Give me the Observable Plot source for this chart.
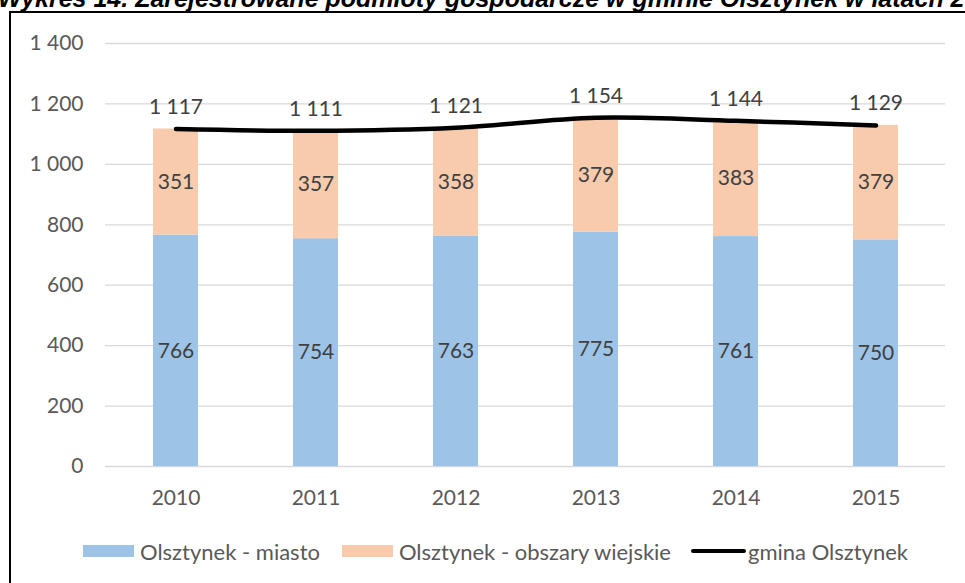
<!DOCTYPE html>
<html>
<head>
<meta charset="utf-8">
<script src="https://cdn.jsdelivr.net/npm/d3@7"></script>
<script src="https://cdn.jsdelivr.net/npm/@observablehq/plot@0.6"></script>
<style>
  html, body { margin: 0; padding: 0; background: #fff; }
  body { width: 965px; height: 583px; position: relative; overflow: hidden; }
  #title {
    position: absolute; left: -2px; top: -14px; white-space: nowrap;
    font-family: "Liberation Sans", Arial, sans-serif; font-style: italic; font-weight: bold;
    font-size: 25px; line-height: 25px; color: #000;
  }
  #frame {
    position: absolute; left: 9px; top: 11px; width: 2000px; height: 2000px;
    border-left: 2px solid #000; border-top: 2px solid #000;
  }
  #chart { position: absolute; left: 0; top: 0; }
  #legend {
    position: absolute; left: 83px; top: 537px; height: 28px;
    font-family: Lato, sans-serif; font-size: 22px; color: #595959;
    display: flex; align-items: center; white-space: nowrap;
  }
  .item { display: flex; align-items: center; }
  .sw { width: 51px; height: 12px; margin-right: 6px; }
  .ln { width: 55px; height: 4px; background: #000; border-radius: 2px; margin-right: 2px; }
</style>
</head>
<body>
<div id="title">Wykres 14. Zarejestrowane podmioty gospodarcze w gminie Olsztynek w latach 2010-2015</div>
<div id="frame"></div>
<div id="chart"></div>
<div id="legend"></div>
<script>
const years = ["2010", "2011", "2012", "2013", "2014", "2015"];
const seriesNames = ["Olsztynek - miasto", "Olsztynek - obszary wiejskie"];
const lineName = "gmina Olsztynek";
const miasto = [766, 754, 763, 775, 761, 750];
const obszaryWiejskie = [351, 357, 358, 379, 383, 379];
const gmina = [1117, 1111, 1121, 1154, 1144, 1129];
const yTicks = [0, 200, 400, 600, 800, 1000, 1200, 1400];
const colors = ["#9DC3E6", "#F8CBAD"];

const locale = d3.formatLocale({decimal: ",", thousands: "\u00a0", grouping: [3], currency: ["", ""]});
const fmt = locale.format(",d");

const table = [];
years.forEach((y, i) => {
  table.push({year: y, series: seriesNames[0], value: miasto[i]});
  table.push({year: y, series: seriesNames[1], value: obszaryWiejskie[i]});
});
const totals = years.map((y, i) => ({year: y, value: gmina[i]}));

const chart = Plot.plot({
  width: 965,
  height: 520,
  marginLeft: 105,
  marginRight: 20,
  marginTop: 43,
  marginBottom: 54,
  style: {fontFamily: "Lato, sans-serif", fontSize: "21px", color: "#595959", background: "transparent", overflow: "visible"},
  x: {domain: years, paddingInner: 0.68, paddingOuter: 0.34, label: null, tickSize: 0, tickPadding: 24},
  y: {domain: [0, 1400], ticks: yTicks, tickFormat: fmt, label: null, tickSize: 0, tickPadding: 22},
  color: {domain: seriesNames, range: colors},
  marks: [
    Plot.gridY(yTicks, {stroke: "#d9d9d9", strokeOpacity: 1, strokeWidth: 1.3}),
    Plot.barY(table, {x: "year", y: "value", fill: "series"}),
    Plot.text(table, Plot.stackY({x: "year", y: "value", text: d => String(d.value), fill: "#404040"})),
    Plot.line(totals, {x: "year", y: "value", stroke: "#000", strokeWidth: 4.5, curve: "catmull-rom", strokeLinecap: "round"}),
    Plot.text(totals, {x: "year", y: "value", text: d => fmt(d.value), dy: -22, fill: "#404040"})
  ]
});
document.getElementById("chart").appendChild(chart);

const legend = document.getElementById("legend");
seriesNames.forEach((name, i) => {
  const it = document.createElement("div");
  it.className = "item";
  it.style.marginRight = i === 0 ? "22px" : "20px";
  it.innerHTML = `<div class="sw" style="background:${colors[i]}"></div><span>${name}</span>`;
  legend.appendChild(it);
});
const li = document.createElement("div");
li.className = "item";
li.innerHTML = `<div class="ln"></div><span>${lineName}</span>`;
legend.appendChild(li);
</script>
</body>
</html>
